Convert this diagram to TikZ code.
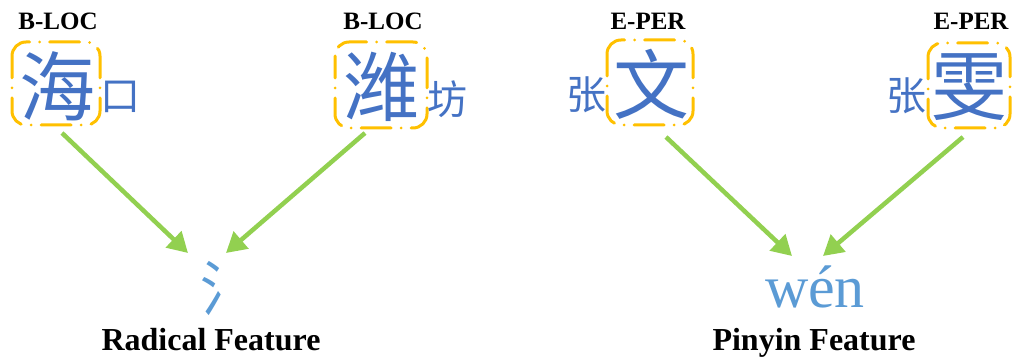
\documentclass[tikz,border=0pt]{standalone}
\usepackage{fontspec}
\setmainfont{Liberation Serif}
\newfontfamily\cjk{Noto Sans CJK SC}
\usetikzlibrary{arrows.meta}
\definecolor{hanblue}{HTML}{4472C4}
\definecolor{featblue}{HTML}{5B9BD5}
\definecolor{arrgreen}{HTML}{92D050}
\definecolor{boxorange}{HTML}{FFC000}
\tikzset{
  big/.style={inner sep=0pt, text=hanblue, font=\cjk\fontsize{76}{76}\selectfont},
  small/.style={inner sep=0pt, text=hanblue, font=\cjk\fontsize{40}{40}\selectfont},
  tag/.style={inner sep=0pt, anchor=base, font=\bfseries\fontsize{25}{25}\selectfont},
  title/.style={inner sep=0pt, anchor=base, font=\bfseries\fontsize{32}{32}\selectfont},
  hbox/.style={draw=boxorange, line width=3pt, line cap=round, rounded corners=14pt,
    dash pattern=on 30pt off 10pt on 0pt off 10pt, dash phase=8pt},
  arr/.style={draw=arrgreen, line width=4.5pt, -{Triangle[length=20pt,width=22pt]}},
}
\begin{document}
\begin{tikzpicture}[x=1pt,y=-1pt]
\useasboundingbox (0,0) rectangle (1014,358);
% labels
\node[tag] (t1) at (58,30) {B-LOC};
\node[tag] (t2) at (383,30) {B-LOC};
\node[tag] (t3) at (648,30) {E-PER};
\node[tag] (t4) at (971,30) {E-PER};
% boxes
\draw[hbox] (12,42) rectangle (100,125);
\draw[hbox] (335,42) rectangle (427,128);
\draw[hbox] (607,40) rectangle (693,125);
\draw[hbox] (928,43) rectangle (1010,128);
% characters
\node[big] (c1) at (57,86) {海};
\node[small] (c2) at (120,97) {口};
\node[big] (c3) at (381,87) {潍};
\node[small] (c4) at (447,99) {坊};
\node[small] (c5) at (586,95) {张};
\node[big] (c6) at (651,84) {文};
\node[small] (c7) at (906,96) {张};
\node[big] (c8) at (969,87) {雯};
% features
\node[inner sep=0pt, text=featblue, font=\cjk\fontsize{60}{60}\selectfont,
      xscale=0.85, yscale=1.0, transform shape] (rad) at (226,289) {氵};
\node[inner sep=0pt, anchor=base, text=featblue, font=\fontsize{60}{60}\selectfont] (py) at (815,307) {wén};
\node[title] (f1) at (211,350) {Radical Feature};
\node[title] (f2) at (814,350) {Pinyin Feature};
% arrows
\coordinate (s1) at (62,133);
\coordinate (s2) at (365,133);
\coordinate (s3) at (666,137);
\coordinate (s4) at (963,137);
\coordinate (e1) at (188,253);
\coordinate (e2) at (226,253);
\coordinate (e3) at (792,256);
\coordinate (e4) at (823,256);
\draw[arr] (s1) -- (e1);
\draw[arr] (s2) -- (e2);
\draw[arr] (s3) -- (e3);
\draw[arr] (s4) -- (e4);
\end{tikzpicture}
\end{document}
